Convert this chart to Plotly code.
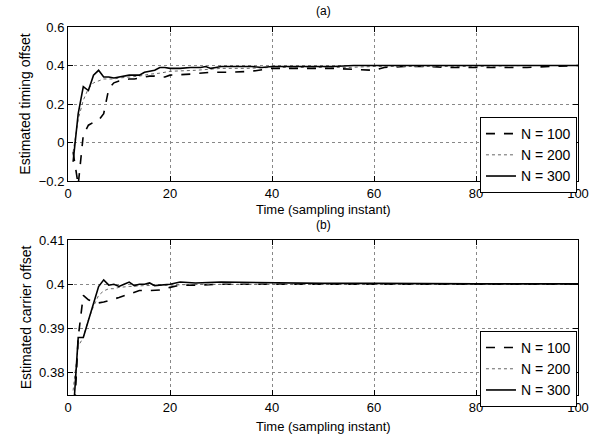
import plotly.graph_objects as go
from plotly.subplots import make_subplots

# ---- data: panel (a) timing offset ----
a100_x = [1,2,3,4,5,6,7,8,9,10,11,12,13,14,15,16,17,18,19,20,24,28,32,36,40,44,48,52,56,60,62,66,70,75,80,85,90,95,100]
a100_y = [-0.05,-0.22,0.04,0.09,0.105,0.115,0.15,0.28,0.31,0.32,0.325,0.33,0.33,0.335,0.34,0.345,0.345,0.34,0.34,0.35,0.355,0.365,0.365,0.37,0.385,0.385,0.385,0.385,0.38,0.375,0.39,0.395,0.395,0.39,0.39,0.39,0.39,0.395,0.40]
a200_x = [1,2,3,4,5,6,7,8,9,10,12,14,16,18,20,25,30,35,40,45,50,55,60,70,80,90,100]
a200_y = [-0.05,0.12,0.22,0.28,0.31,0.32,0.33,0.33,0.33,0.335,0.34,0.345,0.355,0.36,0.37,0.375,0.385,0.385,0.39,0.39,0.39,0.39,0.395,0.395,0.395,0.40,0.40]
a300_x = [1,2,3,4,5,6,7,8,9,10,11,12,13,14,15,16,17,18,19,20,22,24,26,27,28,29,30,32,34,36,38,40,44,48,52,56,60,64,68,72,76,80,85,90,95,100]
a300_y = [-0.1,0.15,0.29,0.27,0.35,0.375,0.34,0.34,0.335,0.34,0.345,0.35,0.35,0.35,0.365,0.37,0.375,0.39,0.39,0.385,0.385,0.39,0.39,0.395,0.385,0.39,0.395,0.395,0.395,0.395,0.39,0.395,0.395,0.395,0.395,0.40,0.40,0.40,0.40,0.40,0.40,0.40,0.40,0.40,0.40,0.40]

# ---- data: panel (b) carrier offset ----
b100_x = [1,2,3,4,5,6,7,8,9,10,12,14,16,18,20,22,25,30,40,50,60,70,80,90,100]
b100_y = [0.365,0.388,0.3975,0.3965,0.396,0.3958,0.396,0.3963,0.3966,0.397,0.3978,0.3986,0.3986,0.3987,0.3993,0.3998,0.3998,0.400,0.400,0.400,0.400,0.400,0.400,0.400,0.400]
b200_x = [1,2,3,4,5,6,7,8,9,10,12,15,20,25,30,40,60,80,100]
b200_y = [0.376,0.386,0.388,0.392,0.395,0.3975,0.3985,0.399,0.399,0.3993,0.3995,0.3997,0.3998,0.400,0.400,0.400,0.400,0.400,0.400]
b300_x = [1,2,3,4,5,6,7,8,9,10,11,12,13,14,15,16,17,18,20,22,25,30,40,50,60,70,80,90,100]
b300_y = [0.370,0.388,0.388,0.392,0.396,0.3995,0.401,0.3998,0.400,0.3995,0.400,0.4005,0.3997,0.400,0.400,0.4003,0.3997,0.3998,0.400,0.4005,0.4003,0.4005,0.4003,0.4002,0.4002,0.4001,0.4001,0.4001,0.4001]

names = ["N = 100", "N = 200", "N = 300"]
styles = [dict(dash="dash", width=1.6, color="black"),
          dict(dash="dot", width=1.0, color="#666666"),
          dict(dash="solid", width=1.6, color="black")]

FONT = "Liberation Sans, Arial, Helvetica, sans-serif"
FS = 14
TFS = 13

fig = make_subplots(rows=2, cols=1, vertical_spacing=0)

top = [(a100_x, a100_y), (a200_x, a200_y), (a300_x, a300_y)]
bot = [(b100_x, b100_y), (b200_x, b200_y), (b300_x, b300_y)]
for (xs, ys), nm, st in zip(top, names, styles):
    fig.add_trace(go.Scatter(x=xs, y=ys, mode="lines", name=nm, line=st,
                             legend="legend"), row=1, col=1)
for (xs, ys), nm, st in zip(bot, names, styles):
    fig.add_trace(go.Scatter(x=xs, y=ys, mode="lines", name=nm, line=st,
                             legend="legend2"), row=2, col=1)

axis_common = dict(showline=True, linecolor="black", linewidth=1, mirror="ticks",
                   ticks="inside", ticklen=5, tickcolor="black",
                   showgrid=True, gridcolor="#888888", griddash="dot", gridwidth=1,
                   zeroline=False, tickfont=dict(size=TFS, color="black", family=FONT))

fig.update_xaxes(axis_common)
fig.update_yaxes(axis_common)

PLOT_H = 436 - 27 - 41


def py(pixel_y):
    return 1 - (pixel_y - 27) / PLOT_H


fig.update_layout(
    width=607, height=436,
    margin=dict(l=68, r=29, t=27, b=41),
    paper_bgcolor="white", plot_bgcolor="white",
    font=dict(family=FONT, size=FS, color="black"),
    xaxis=dict(domain=[0, 1], range=[0, 100], tickvals=[0, 20, 40, 60, 80, 100]),
    yaxis=dict(domain=[0.5815, 1], range=[-0.2, 0.6], tickvals=[-0.2, 0, 0.2, 0.4, 0.6],
               ticktext=["\u22120.2", "0", "0.2", "0.4", "0.6"],
               title=dict(text="Estimated timing offset", standoff=4, font=dict(size=FS))),
    xaxis2=dict(domain=[0, 1], range=[0, 100], tickvals=[0, 20, 40, 60, 80, 100]),
    yaxis2=dict(domain=[0, 0.4212], range=[0.375, 0.41], tickvals=[0.38, 0.39, 0.40, 0.41],
                ticktext=["0.38", "0.39", "0.4", "0.41"],
                title=dict(text="Estimated carrier offset", standoff=4, font=dict(size=FS))),
    legend=dict(x=0.998, y=0.7554, xanchor="right", yanchor="top",
                bgcolor="white", bordercolor="black", borderwidth=1,
                font=dict(size=FS, family=FONT), itemwidth=30, tracegroupgap=0),
    legend2=dict(x=0.998, y=0.174, xanchor="right", yanchor="top",
                 bgcolor="white", bordercolor="black", borderwidth=1,
                 font=dict(size=FS, family=FONT), itemwidth=30, tracegroupgap=0),
    showlegend=True,
    annotations=[
        dict(text="(a)", x=0.5, y=py(11), xref="paper", yref="paper", xanchor="center",
             yanchor="middle", showarrow=False, font=dict(size=12)),
        dict(text="Time (sampling instant)", x=0.5, y=py(209), xref="paper", yref="paper",
             xanchor="center", yanchor="middle", showarrow=False, font=dict(size=13)),
        dict(text="(b)", x=0.5, y=py(225), xref="paper", yref="paper", xanchor="center",
             yanchor="middle", showarrow=False, font=dict(size=12)),
        dict(text="Time (sampling instant)", x=0.5, y=py(426), xref="paper", yref="paper",
             xanchor="center", yanchor="middle", showarrow=False, font=dict(size=13)),
    ],
)

fig.write_html("out.html")
